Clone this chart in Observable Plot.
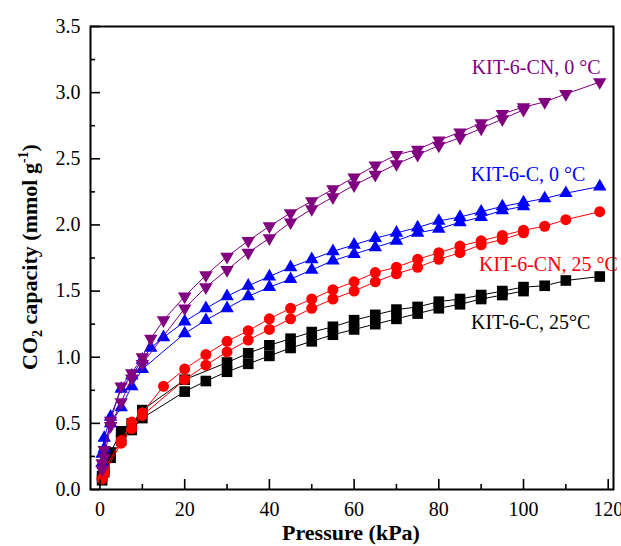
<!DOCTYPE html>
<html><head><meta charset="utf-8">
<script src="https://cdn.jsdelivr.net/npm/d3@7"></script>
<script src="https://cdn.jsdelivr.net/npm/@observablehq/plot@0.6"></script>
<style>body{margin:0;background:#fff}#chart{width:621px;height:546px}</style>
</head><body><div id="chart"></div>
<script>
// ---- Data (pressure kPa, CO2 uptake mmol/g) ----
// KIT-6-C, 25 °C
const c25DesP = [118,110,105,100,95,90,85,80,75,70,65,60,55,50,45,40,35,30,20,10,7.5,5,2.5,1,0.5];
const c25DesV = [1.61,1.58,1.54,1.53,1.50,1.47,1.44,1.42,1.38,1.36,1.32,1.28,1.23,1.19,1.14,1.09,1.03,0.96,0.83,0.60,0.50,0.44,0.28,0.16,0.10];
const c25AdsP = [0.5,1,2.5,5,7.5,10,20,25,30,35,40,45,50,55,60,65,70,75,80,85,90,95,100];
const c25AdsV = [0.07,0.13,0.24,0.37,0.45,0.54,0.74,0.82,0.89,0.95,1.01,1.07,1.12,1.17,1.21,1.25,1.29,1.33,1.37,1.40,1.44,1.47,1.50];
// KIT-6-CN, 25 °C
const cn25DesP = [118,110,105,100,95,90,85,80,75,70,65,60,55,50,45,40,35,30,25,20,15,10,7.5,5,1,0.5];
const cn25DesV = [2.10,2.04,1.99,1.96,1.92,1.88,1.84,1.79,1.74,1.68,1.64,1.57,1.51,1.44,1.37,1.29,1.20,1.12,1.02,0.91,0.78,0.58,0.51,0.37,0.15,0.08];
const cn25AdsP = [0.5,1,5,7.5,10,20,25,30,35,40,45,50,55,60,65,70,75,80,85,90,95,100];
const cn25AdsV = [0.08,0.12,0.35,0.46,0.56,0.83,0.94,1.04,1.13,1.21,1.29,1.37,1.44,1.50,1.57,1.63,1.68,1.74,1.79,1.85,1.89,1.94];
// KIT-6-C, 0 °C
const c0DesP = [118,110,105,100,95,90,85,80,75,70,65,60,55,50,45,40,35,30,25,20,15,12,10,7.5,5,2.5,1,0.5];
const c0DesV = [2.29,2.24,2.20,2.17,2.14,2.10,2.06,2.03,1.98,1.94,1.90,1.85,1.80,1.74,1.68,1.61,1.54,1.46,1.37,1.27,1.15,1.07,0.98,0.86,0.76,0.55,0.39,0.27];
const c0AdsP = [0.5,1,2.5,5,7.5,10,20,25,30,35,40,45,50,55,60,65,70,75,80,85,90,95,100];
const c0AdsV = [0.20,0.31,0.50,0.62,0.78,0.91,1.18,1.28,1.37,1.46,1.53,1.59,1.66,1.73,1.78,1.83,1.88,1.94,1.97,2.02,2.06,2.11,2.14];
// KIT-6-CN, 0 °C
const cn0DesP = [118,110,105,100,95,90,85,80,75,70,65,60,55,50,45,40,35,30,25,20,15,12,10,7.5,5,2.5,1,0.5];
const cn0DesV = [3.08,2.99,2.93,2.89,2.84,2.77,2.70,2.64,2.57,2.53,2.45,2.36,2.27,2.18,2.09,1.99,1.88,1.76,1.62,1.46,1.28,1.14,1.00,0.88,0.78,0.52,0.30,0.20];
const cn0AdsP = [0.5,1,2.5,5,7.5,10,20,25,30,35,40,45,50,55,60,65,70,75,80,85,90,95,100];
const cn0AdsV = [0.15,0.24,0.48,0.66,0.84,0.95,1.37,1.53,1.66,1.79,1.90,2.02,2.12,2.21,2.30,2.38,2.46,2.53,2.60,2.66,2.73,2.80,2.87];

const seriesNames = ["KIT-6-C, 25°C", "KIT-6-CN, 25 °C", "KIT-6-C, 0 °C", "KIT-6-CN, 0 °C"];
const xMajor = [0,20,40,60,80,100,120];
const xMinor = [10,30,50,70,90,110];
const yMajor = [0,0.5,1,1.5,2,2.5,3,3.5];
const yMinor = [0.25,0.75,1.25,1.75,2.25,2.75,3.25];

// ---- Styles ----
const FONT = "Liberation Serif";
const triangleDown = {
  draw(context, size) {
    const y = -Math.sqrt(size / (3 * Math.sqrt(3)));
    context.moveTo(0, -y * 2);
    context.lineTo(-Math.sqrt(3) * y, y);
    context.lineTo(Math.sqrt(3) * y, y);
    context.closePath();
  }
};
const styles = [
  {color: "#000000", symbol: "square", r: 6},
  {color: "#ff0000", symbol: "circle", r: 5.5},
  {color: "#0000ff", symbol: "triangle", r: 5},
  {color: "#800080", symbol: triangleDown, r: 5}
];
// label anchors (data coordinates, right-aligned)
const labelPos = [
  {x: 115.8, y: 1.265},
  {x: 122.3, y: 1.70},
  {x: 114.6, y: 2.38},
  {x: 118.2, y: 3.19}
];

const branches = [
  [[c25DesP, c25DesV], [c25AdsP, c25AdsV]],
  [[cn25DesP, cn25DesV], [cn25AdsP, cn25AdsV]],
  [[c0DesP, c0DesV], [c0AdsP, c0AdsV]],
  [[cn0DesP, cn0DesV], [cn0AdsP, cn0AdsV]]
];

const marks = [];
branches.forEach((br, si) => {
  const rows = br.flatMap(([P, V], bi) => P.map((p, i) => ({series: seriesNames[si], branch: bi, p, v: V[i]})));
  const st = styles[si];
  marks.push(Plot.line(rows, {x: "p", y: "v", z: "branch", stroke: st.color, strokeWidth: 1}));
  marks.push(Plot.dot(rows, {x: "p", y: "v", symbol: st.symbol, r: st.r, fill: st.color, stroke: "none"}));
});

const labels = seriesNames.map((name, i) => ({text: name, x: labelPos[i].x, y: labelPos[i].y, color: styles[i].color}));

const chart = Plot.plot({
  width: 621,
  height: 546,
  marginLeft: 90,
  marginRight: 8,
  marginTop: 26,
  marginBottom: 57,
  style: {fontSize: "20px", background: "white", color: "black", overflow: "visible"},
  x: {domain: [-2.24, 121.25]},
  y: {domain: [0, 3.5]},
  marks: [
    ...marks,
    Plot.text(labels, {x: "x", y: "y", text: "text", fill: d => d.color, textAnchor: "end", fontSize: 20, fontFamily: FONT, clip: false}),
    Plot.axisX({ticks: xMajor, tickSize: -10, tickFormat: () => "", strokeWidth: 1.6, label: null}),
    Plot.axisX({ticks: xMinor, tickSize: -5, tickFormat: () => "", strokeWidth: 1.6, label: null}),
    Plot.axisX({ticks: xMajor, tickSize: 0, tickPadding: 12, fontSize: 20, fontFamily: FONT, label: null}),
    Plot.axisY({ticks: yMajor, tickSize: -10, tickFormat: () => "", strokeWidth: 1.6, label: null}),
    Plot.axisY({ticks: yMinor, tickSize: -5, tickFormat: () => "", strokeWidth: 1.6, label: null}),
    Plot.axisY({ticks: yMajor, tickSize: 0, tickPadding: 10, tickFormat: d3.format(".1f"), fontSize: 20, fontFamily: FONT, label: null}),
    Plot.frame({stroke: "black", strokeWidth: 2})
  ]
});
document.getElementById("chart").appendChild(chart);

const svg = d3.select(chart);
svg.selectAll("text").attr("font-family", FONT).style("font-family", FONT);
svg.append("text")
  .attr("x", 351).attr("y", 540)
  .attr("text-anchor", "middle")
  .attr("font-family", FONT)
  .attr("font-weight", "bold").attr("font-size", 22)
  .text("Pressure (kPa)");
const yt = svg.append("text")
  .attr("transform", "translate(37,257) rotate(-90)")
  .attr("text-anchor", "middle")
  .attr("font-family", FONT)
  .attr("font-weight", "bold").attr("font-size", 22);
yt.append("tspan").text("CO");
yt.append("tspan").attr("font-size", 14).attr("dy", 5).text("2");
yt.append("tspan").attr("dy", -5).text(" capacity (mmol g");
yt.append("tspan").attr("font-size", 14).attr("dy", -9).text("-1");
yt.append("tspan").attr("dy", 9).text(")");
</script></body></html>
